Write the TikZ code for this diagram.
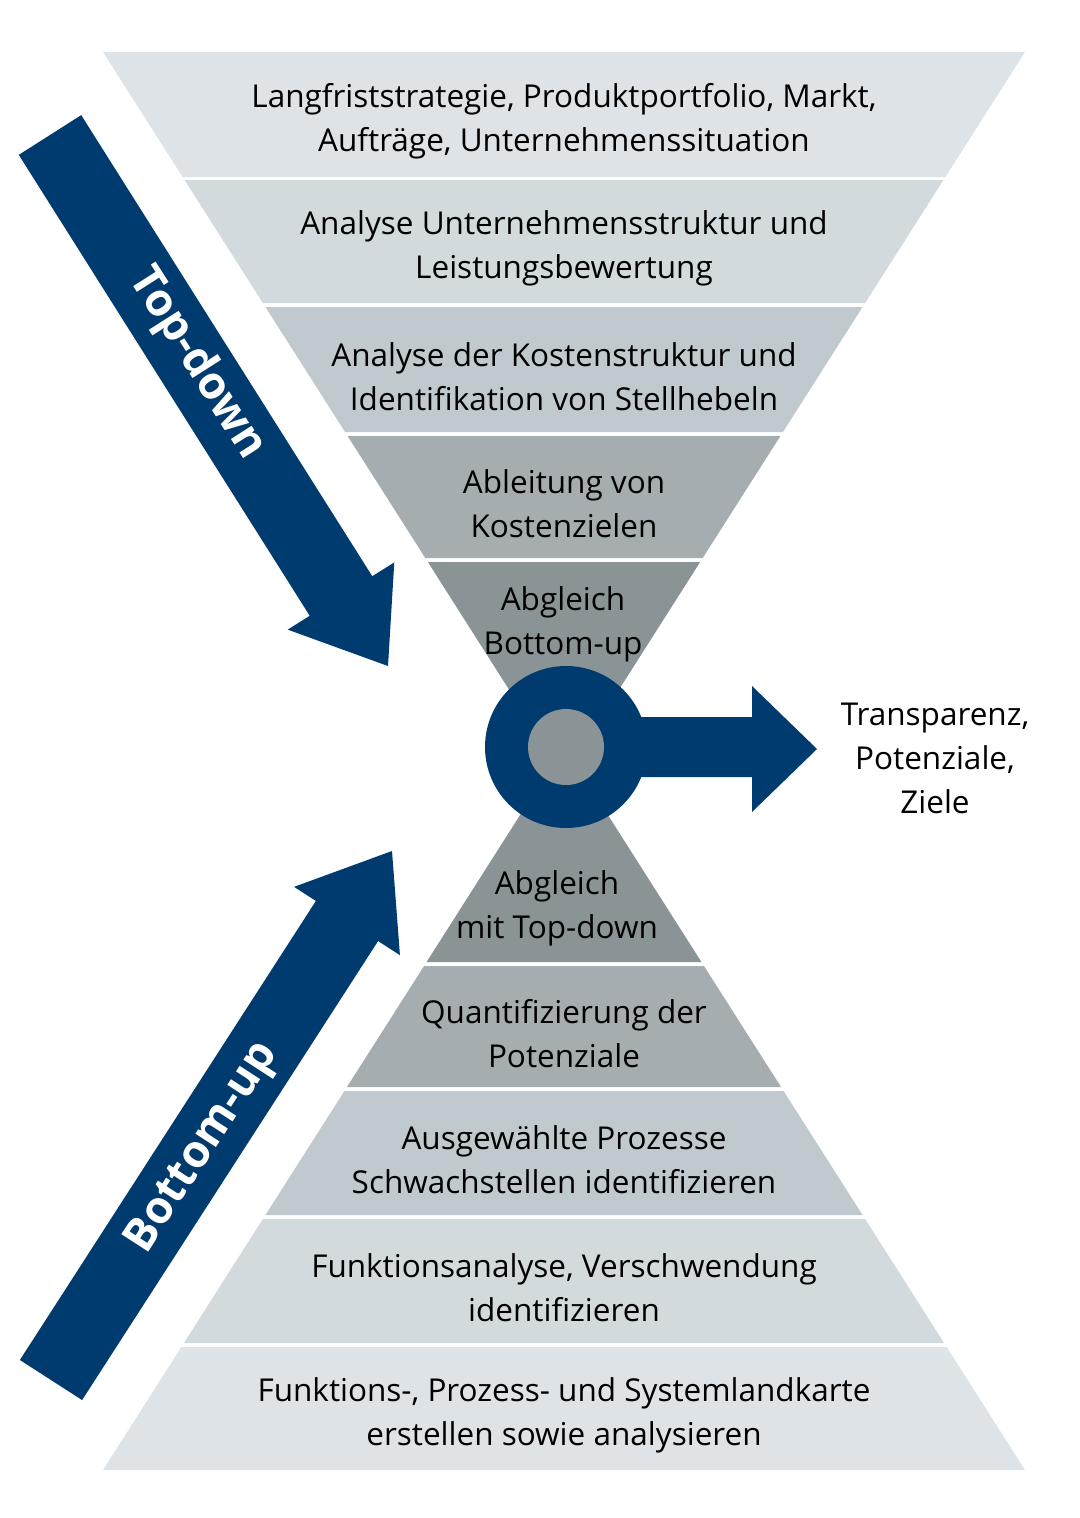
\documentclass[tikz,border=0pt]{standalone}
\usepackage{fontspec}
\setmainfont{Open Sans}
\usetikzlibrary{calc}
\definecolor{bandA}{HTML}{DEE3E7}
\definecolor{bandB}{HTML}{D2DADE}
\definecolor{bandC}{HTML}{C0CACE}
\definecolor{bandD}{HTML}{A5ADB0}
\definecolor{bandE}{HTML}{8A9396}
\definecolor{navy}{HTML}{003B6F}
\begin{document}
\begin{tikzpicture}[
        x=1pt, y=-1pt,
        declare function={ft(\y)=103+0.637*(\y-52); fb(\y)=103+0.637*(1470-\y);},
        every node/.style={font=\fontsize{31.5}{44}\selectfont, align=center, inner sep=0pt},
        label/.style={font=\fontsize{45}{50}\selectfont\bfseries, text=white}
    ]
    \useasboundingbox (0,0) rectangle (1079,1518);

    % Top funnel
    \foreach \ya/\yb/\col/\txt in {52/177/bandA/{Langfriststrategie, Produktportfolio, Markt,\\Aufträge, Unternehmenssituation},
        180/303/bandB/{Analyse Unternehmensstruktur und\\Leistungsbewertung},
        307/432/bandC/{Analyse der Kostenstruktur und\\Identifikation von Stellhebeln},
        436/558/bandD/{Ableitung von\\Kostenzielen}} {
        \fill[\col] ({ft(\ya)},\ya) -- ({1128-ft(\ya)},\ya) -- ({1128-ft(\yb)},\yb) -- ({ft(\yb)},\yb) -- cycle;
        \node (top\ya) at (564,{(\ya+\yb)/2+7}) {\txt};
    }
    \fill[bandE] ({ft(562)},562) -- ({1128-ft(562)},562) -- (564,776) -- cycle;
    \node (topapex) at (563,624) {Abgleich\\Bottom-up};

    % Bottom funnel
    \foreach \ya/\yb/\col/\txt in {1470/1347/bandA/{Funktions-, Prozess- und Systemlandkarte\\erstellen sowie analysieren},
        1343/1219/bandB/{Funktionsanalyse, Verschwendung\\identifizieren},
        1215/1091/bandC/{Ausgewählte Prozesse\\Schwachstellen identifizieren},
        1087/966/bandD/{Quantifizierung der\\Potenziale}} {
        \fill[\col] ({fb(\ya)},\ya) -- ({1128-fb(\ya)},\ya) -- ({1128-fb(\yb)},\yb) -- ({fb(\yb)},\yb) -- cycle;
        \node (bot\ya) at (564,{(\ya+\yb)/2+7}) {\txt};
    }
    \fill[bandE] ({fb(962)},962) -- ({1128-fb(962)},962) -- (564,746) -- cycle;
    \node (botapex) at (557,908) {Abgleich\\mit Top-down};

    % Ring and output arrow
    \fill[navy] (640,717) -- (752,717) -- (752,686) -- (817,749) -- (752,812) -- (752,777) -- (640,777) -- cycle;
    \fill[navy] (566,747) circle (81);
    \fill[bandE] (566,747) circle (38);
    \node (result) at (935,758) {Transparenz,\\Potenziale,\\Ziele};

    % Top-down arrow
    \coordinate (tdS) at (50,135);
    \coordinate (tdB) at (341,596);
    \coordinate (tdT) at (388,666);
    \fill[navy] ($(tdS)!37pt!90:(tdT)$) -- ($(tdB)!37pt!-90:(tdS)$) -- ($(tdB)!63pt!-90:(tdS)$) -- (tdT)
        -- ($(tdB)!63pt!90:(tdS)$) -- ($(tdB)!37pt!90:(tdS)$) -- ($(tdS)!37pt!-90:(tdT)$) -- cycle;
    \node[label, rotate=-57.5] (tdlabel) at (197,364) {Top-down};

    % Bottom-up arrow
    \coordinate (buS) at (51,1380);
    \coordinate (buB) at (347,921);
    \coordinate (buT) at (392,851);
    \fill[navy] ($(buS)!37pt!90:(buT)$) -- ($(buB)!37pt!-90:(buS)$) -- ($(buB)!63pt!-90:(buS)$) -- (buT)
        -- ($(buB)!63pt!90:(buS)$) -- ($(buB)!37pt!90:(buS)$) -- ($(buS)!37pt!-90:(buT)$) -- cycle;
    \node[label, rotate=57] (bulabel) at (203,1148) {Bottom-up};
\end{tikzpicture}
\end{document}
